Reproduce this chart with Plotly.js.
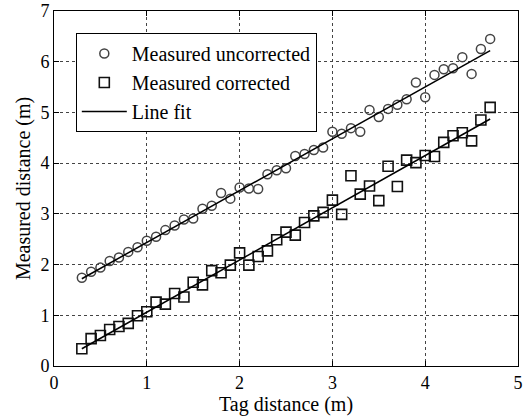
<!DOCTYPE html>
<html>
<head>
<meta charset="utf-8">
<script src="https://cdn.plot.ly/plotly-3.0.1.min.js"></script>
<style>html,body{margin:0;padding:0;background:#fff;}#chart{width:527px;height:417px;}</style>
</head>
<body>
<div id="chart"></div>
<script>
// Tag distance (m)
var tagDistance = [0.3,0.4,0.5,0.6,0.7,0.8,0.9,1.0,1.1,1.2,1.3,1.4,1.5,1.6,1.7,1.8,1.9,2.0,2.1,2.2,2.3,2.4,2.5,2.6,2.7,2.8,2.9,3.0,3.1,3.2,3.3,3.4,3.5,3.6,3.7,3.8,3.9,4.0,4.1,4.2,4.3,4.4,4.5,4.6,4.7];
// Measured uncorrected (m)
var uncorrected = [1.74,1.86,1.94,2.07,2.14,2.25,2.34,2.47,2.55,2.68,2.77,2.89,2.91,3.10,3.16,3.41,3.30,3.52,3.50,3.49,3.78,3.86,3.90,4.14,4.18,4.26,4.31,4.62,4.58,4.69,4.62,5.05,4.91,5.07,5.15,5.26,5.59,5.30,5.74,5.85,5.87,6.09,5.76,6.25,6.45];
// Measured corrected (m)
var corrected = [0.34,0.54,0.60,0.72,0.78,0.84,0.99,1.07,1.26,1.22,1.43,1.36,1.65,1.60,1.88,1.84,1.99,2.23,1.99,2.16,2.27,2.49,2.64,2.58,2.83,2.96,3.03,3.27,2.99,3.75,3.39,3.55,3.26,3.94,3.54,4.06,4.01,4.15,4.13,4.41,4.54,4.60,4.44,4.85,5.10];
// Line fit end points
var fitX = [0.3, 4.7];
var fitUncorrected = [1.72, 6.22];
var fitCorrected = [0.34, 4.87];
var xTicks = [0,1,2,3,4,5];
var yTicks = [0,1,2,3,4,5,6,7];

var serif = "Liberation Serif, Times New Roman, serif";

var traces = [
  {x: tagDistance, y: uncorrected, mode: 'markers', type: 'scatter', name: 'Measured uncorrected',
   marker: {symbol: 'circle-open', size: 9, color: '#444', line: {width: 1.5, color: '#444'}}},
  {x: tagDistance, y: corrected, mode: 'markers', type: 'scatter', name: 'Measured corrected',
   marker: {symbol: 'square-open', size: 10, color: '#111', line: {width: 1.6, color: '#111'}}},
  {x: fitX, y: fitUncorrected, mode: 'lines', type: 'scatter', name: 'Line fit',
   line: {color: '#000', width: 1.5}},
  {x: fitX, y: fitCorrected, mode: 'lines', type: 'scatter', name: 'Line fit', showlegend: false,
   line: {color: '#000', width: 1.5}}
];

var axisCommon = {
  showline: true, linecolor: '#000', linewidth: 1, mirror: 'ticks',
  ticks: 'inside', ticklen: 5, tickcolor: '#000', tickwidth: 1,
  showgrid: true, gridcolor: '#444', gridwidth: 1, griddash: 'dot',
  zeroline: false, tickfont: {family: serif, size: 18, color: '#000'}
};

var layout = {
  width: 527, height: 417,
  margin: {l: 54, r: 9, t: 11, b: 51, pad: 0},
  paper_bgcolor: '#fff', plot_bgcolor: '#fff',
  showlegend: true,
  legend: {x: 0.047, y: 0.938, xanchor: 'left', yanchor: 'top',
    bgcolor: '#fff', bordercolor: '#000', borderwidth: 1, itemwidth: 45,
    font: {family: serif, size: 20, color: '#000'}, tracegroupgap: 0},
  xaxis: Object.assign({}, axisCommon, {range: [0, 5], tickvals: xTicks, ticktext: xTicks.map(String),
    title: {text: 'Tag distance (m)', font: {family: serif, size: 20, color: '#000'}, standoff: 2}}),
  yaxis: Object.assign({}, axisCommon, {range: [0, 7], tickvals: yTicks, ticktext: yTicks.map(String),
    title: {text: 'Measured distance (m)', font: {family: serif, size: 20, color: '#000'}, standoff: 4}})
};

Plotly.newPlot('chart', traces, layout, {staticPlot: true, displayModeBar: false});
</script>
</body>
</html>
